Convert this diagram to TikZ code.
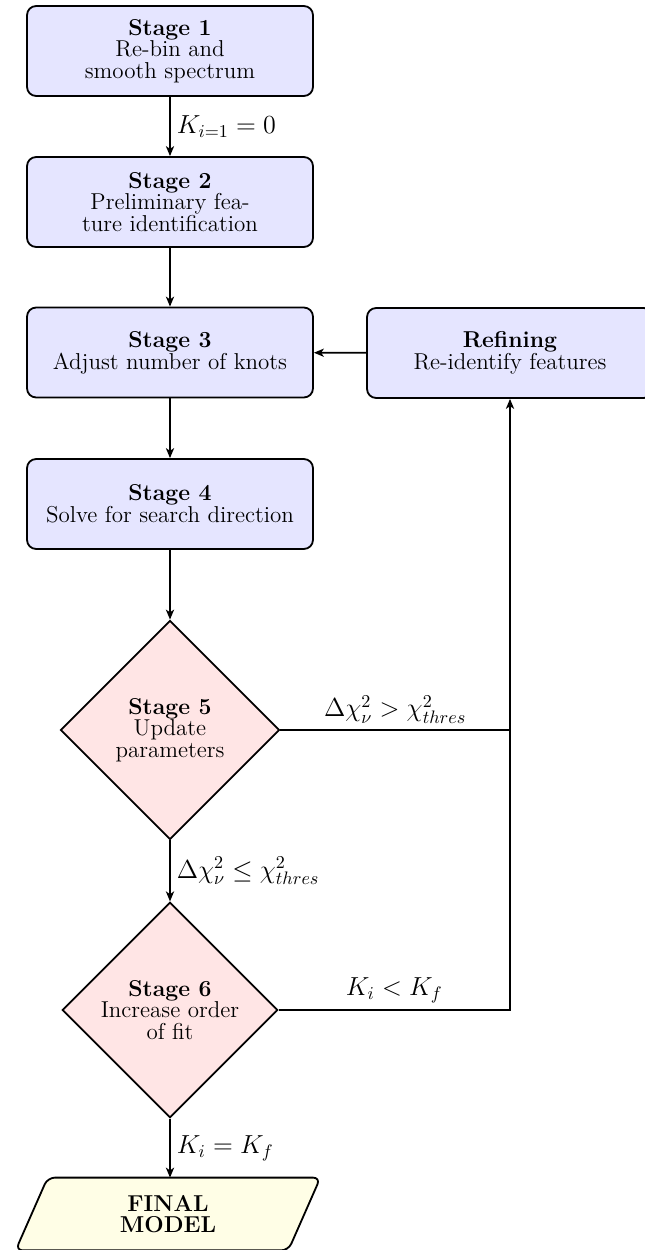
\documentclass[tikz,border=0pt]{standalone}
\usetikzlibrary{shapes.geometric,arrows.meta,backgrounds}
\begin{document}
\begin{tikzpicture}[x=0.5525pt,y=-0.5525pt,
  every node/.style={font=\fontsize{12.7}{12}\selectfont},
  lbl/.style={font=\fontsize{13.8}{14}\selectfont},
  stagebox/.style={draw,line width=1pt,rounded corners=5pt,fill=blue!10,
    minimum width=158pt,minimum height=49.7pt,align=center,inner sep=2pt},
  decide/.style={draw,line width=1pt,diamond,fill=red!10,align=center,inner sep=0pt},
  finalbox/.style={minimum width=168pt,minimum height=39.8pt,align=center,
    inner sep=0pt,font=\fontsize{12.7}{12}\selectfont\bfseries},
  finalshape/.style={draw,line width=1pt,rounded corners=4pt,fill=yellow!10},
  arr/.style={line width=1pt,-{Stealth[length=5.5pt,width=4.5pt,inset=1.5pt]}},
  plain/.style={line width=1pt}]
\useasboundingbox (0,0) rectangle (645,1250);
\node[stagebox] (s1) at (170,51) {\textbf{Stage 1}\\Re-bin and\\smooth spectrum};
\node[stagebox] (s2) at (170,202) {\textbf{Stage 2}\\Preliminary fea-\\ture identification};
\node[stagebox] (s3) at (170,352.5) {\textbf{Stage 3}\\Adjust number of knots};
\node[stagebox] (s4) at (170,504) {\textbf{Stage 4}\\Solve for search direction};
\node[stagebox] (rf) at (510,353) {\textbf{Refining}\\Re-identify features};
\node[decide,minimum width=121pt,minimum height=121pt] (s5) at (170,730) {\textbf{Stage 5}\\Update\\parameters};
\node[decide,minimum width=119pt,minimum height=119pt] (s6) at (170,1010) {\textbf{Stage 6}\\Increase order\\of fit};
\node[finalbox] (fm) at (168,1214) {FINAL\\MODEL};
\begin{pgfonlayer}{background}
\draw[finalshape] ([xshift=17.7pt]fm.north west) -- (fm.north east)
  -- ([xshift=-17.7pt]fm.south east) -- (fm.south west) -- cycle;
\end{pgfonlayer}
\draw[arr] (s1) -- node[right,lbl] {$K_{i=1}=0$} (s2);
\draw[arr] (s2) -- (s3);
\draw[arr] (s3) -- (s4);
\draw[arr] (s4) -- (s5);
\draw[arr] (s5) -- node[right,lbl] {$\Delta\chi^2_\nu \leq \chi^2_{thres}$} (s6);
\draw[arr] (s6.south) -- node[right,lbl] {$K_i=K_f$} (s6.south |- fm.north);
\draw[arr] (rf) -- (s3);
\draw[plain] (s5.east) -- node[above,lbl] {$\Delta\chi^2_\nu > \chi^2_{thres}$} (s5.east -| rf.south);
\draw[arr] (s6.east) -- node[above,lbl] {$K_i<K_f$} (s6.east -| rf.south) -- (rf.south);
\end{tikzpicture}
\end{document}
